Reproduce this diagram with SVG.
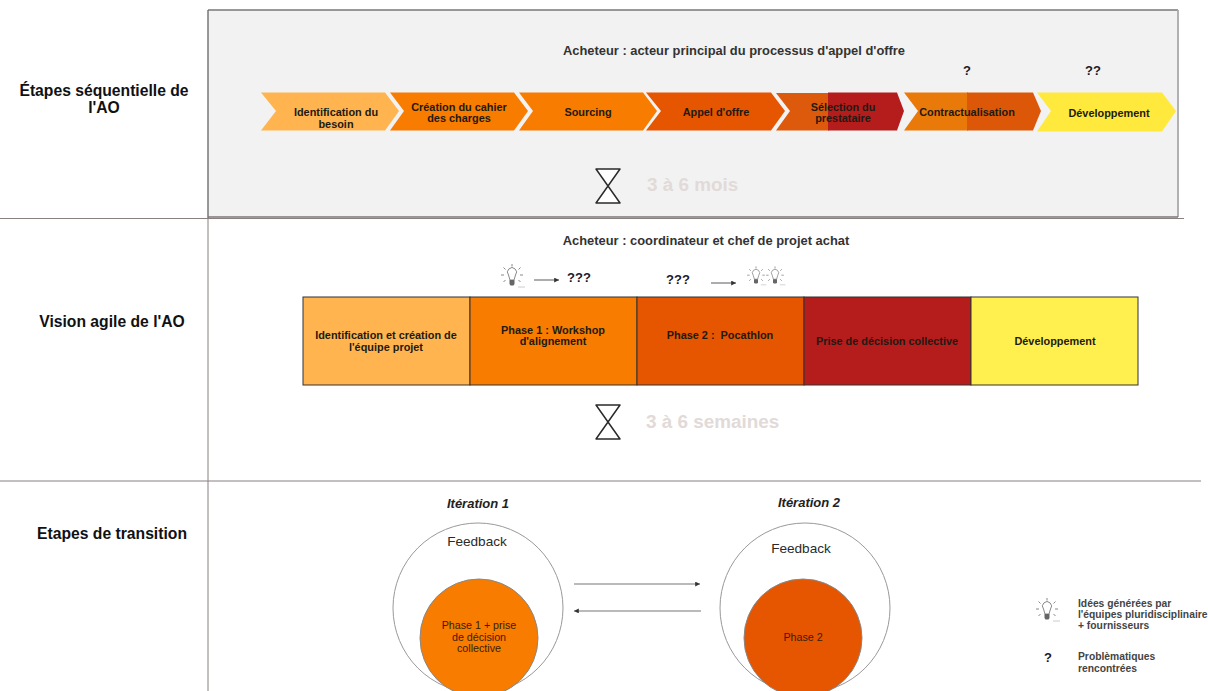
<svg xmlns="http://www.w3.org/2000/svg" width="1208" height="691" viewBox="0 0 1208 691">
<style>
text{font-family:"Liberation Sans",Arial,sans-serif;fill:#1a1a1a}
.b{font-weight:700;font-size:10.9px;text-anchor:middle;fill:#221a12}
.h{font-weight:700;font-size:15.7px;text-anchor:middle;fill:#111}
.s{font-weight:700;font-size:12.9px;text-anchor:middle;fill:#333}
.q{font-weight:700;font-size:13px;text-anchor:middle;fill:#1a1a2a}
.g{font-weight:700;font-size:18.900px;fill:#e2dad8}
.l{fill:none;stroke:#8a8080;stroke-width:1}
.e{fill:none;stroke:#777;stroke-width:1.500}
.r{fill:none;stroke:#aaa;stroke-width:1.800}
.a{fill:none;stroke:#777;stroke-width:1.200}
.i{font-weight:700;font-style:italic;font-size:13px;text-anchor:middle;fill:#222}
.f{font-size:13.600px;text-anchor:middle;fill:#2a2a2a}
.t{font-size:10.700px;text-anchor:middle;fill:#3a2008}
.c{fill:#fff;stroke:#999;stroke-width:1}
.leg{font-weight:700;font-size:10.300px;fill:#444}
.hg{fill:#fff;stroke:#2a2a2a;stroke-width:1.500;stroke-linejoin:round}
.bulb{fill:none;stroke:#888;stroke-width:1}
</style>
<defs>
<marker id="ah" markerWidth="5" markerHeight="5" refX="4" refY="2" orient="auto"><path d="M0 0L4 2L0 4Z" fill="#333"/></marker>
<g id="bulb">
<path class="bulb" d="M-3.500-1a4.500 4.500 0 1 1 7 0l-1.500 5h-4zM0-9.500v-2.500M-6.500-6.500l-2-2M6.500-6.500l2-2M-8-1h-3M8-1h3M-6.500 4l-2 2M6.500 4l2 2"/>
<path d="M-2.500 4h5v4l-1 1.500h-3l-1-1.500z" fill="#666"/>
<path d="M6 11h7" stroke="#ccc" stroke-width="1"/>
</g>
<g id="hour"><path class="hg" d="M-12-17H12L-12 17H12Z"/></g>
</defs>

<rect x="208" y="10" width="970" height="207" fill="#f2f2f2"/>

<g id="connectors">
<path class="e" d="M208 10H1178"/>
<path class="r" d="M1178 10V217"/>
<path class="e" d="M208 217H1178"/>
<path class="l" d="M0 218.500H1184"/>
<path class="e" d="M208 10V218"/>
<path class="l" d="M208 218V691"/>
<path class="l" d="M0 481H1201"/>
<path class="a" d="M534 280H559" marker-end="url(#ah)"/>
<path class="a" d="M711 283H736" marker-end="url(#ah)"/>
<path class="a" d="M574 584H700" marker-end="url(#ah)"/>
<path class="a" d="M701 611H574" marker-end="url(#ah)"/>
</g>

<g id="row-labels">
<text class="h" x="104" y="96">Étapes séquentielle de</text>
<text class="h" x="104" y="113">l'AO</text>
<text class="h" x="112" y="327">Vision agile de l'AO</text>
<text class="h" x="112" y="539">Etapes de transition</text>
</g>

<g id="sequence-header">
<text class="s" x="734" y="55">Acheteur : acteur principal du processus d'appel d'offre</text>
<text class="q" x="967" y="75">?</text>
<text class="q" x="1093" y="75">??</text>
</g>

<g id="step-1"><path fill="#ffb44f" d="M261 92.500H385L399 111L385 130.500H261L276 111Z"/><text class="b" x="336" y="116">Identification du</text><text class="b" x="336" y="128">besoin</text></g>
<g id="step-2"><path fill="#f77c00" d="M390 92.500H514L528 111L514 130.500H390L404 111Z"/><text class="b" x="459" y="111">Création du cahier</text><text class="b" x="459" y="122">des charges</text></g>
<g id="step-3"><path fill="#f77c00" d="M519 92.500H643L657 111L643 130.500H519L533 111Z"/><text class="b" x="588" y="116">Sourcing</text></g>
<g id="step-4"><path fill="#e65500" d="M646 92.500H771L785 111L771 130.500H646L661 111Z"/><text class="b" x="716" y="116">Appel d'offre</text></g>
<g id="step-5"><path fill="#dd5a0c" d="M776 93H829V130.500H776L790 111Z"/><path fill="#b51d1d" d="M828 92.500H897L904 111L897 130.500H828Z"/><text class="b" x="843" y="111">Sélection du</text><text class="b" x="843" y="122">prestataire</text></g>
<g id="step-6"><path fill="#e97908" d="M904 92.500H968V130.500H904L918 111Z"/><path fill="#dd5708" d="M967 92.500H1033L1041 111L1033 130.500H967L967 111Z"/><text class="b" x="967" y="116">Contractualisation</text></g>
<g id="step-7"><path fill="#ffe93c" d="M1037 92.500H1162L1176 111L1162 131.500H1037L1051 111Z"/><text class="b" x="1109" y="117">Développement</text></g>

<g id="duration-1"><use href="#hour" x="608" y="186"/><text class="g" x="647" y="191">3 à 6 mois</text></g>

<g id="agile-header">
<text class="s" x="706" y="245">Acheteur : coordinateur et chef de projet achat</text>
<use href="#bulb" x="512" y="276"/><text class="q" x="579" y="282">???</text>
<text class="q" x="678" y="284">???</text>
<use href="#bulb" transform="translate(756 276) scale(.8)"/><use href="#bulb" transform="translate(775 276) scale(.8)"/>
</g>

<g id="phase-1"><rect x="303" y="297" width="167" height="88" fill="#ffb44f" stroke="#333"/><text class="b" x="386" y="339">Identification et création de</text><text class="b" x="386" y="351">l'équipe projet</text></g>
<g id="phase-2"><rect x="470" y="297" width="167" height="88" fill="#f77c00" stroke="#333"/><text class="b" x="553" y="334">Phase 1 : Workshop</text><text class="b" x="553" y="345">d'alignement</text></g>
<g id="phase-3"><rect x="637" y="297" width="167" height="88" fill="#e65500" stroke="#333"/><text class="b" x="720" y="339" xml:space="preserve">Phase 2 :  Pocathlon</text></g>
<g id="phase-4"><rect x="804" y="297" width="167" height="88" fill="#b51d1d" stroke="#333"/><text class="b" x="887" y="345">Prise de décision collective</text></g>
<g id="phase-5"><rect x="971" y="297" width="167" height="88" fill="#fff050" stroke="#333"/><text class="b" x="1055" y="345">Développement</text></g>

<g id="duration-2"><use href="#hour" x="608" y="422"/><text class="g" x="646" y="428">3 à 6 semaines</text></g>

<g id="iteration-1">
<text class="i" x="478" y="508">Itération 1</text>
<circle class="c" cx="478" cy="608" r="85"/>
<text class="f" x="477" y="546">Feedback</text>
<circle cx="479" cy="638" r="59" fill="#f77c00" stroke="#888"/>
<text class="t" x="479" y="629">Phase 1 + prise</text><text class="t" x="479" y="641">de décision</text><text class="t" x="479" y="652">collective</text>
</g>
<g id="iteration-2">
<text class="i" x="809" y="507">Itération 2</text>
<circle class="c" cx="805" cy="608" r="85"/>
<text class="f" x="801" y="553">Feedback</text>
<circle cx="803" cy="638" r="59" fill="#e65500" stroke="#888"/>
<text class="t" x="803" y="641">Phase 2</text>
</g>

<g id="legend">
<use href="#bulb" x="1047" y="610"/>
<text class="leg" x="1078" y="607">Idées générées par</text>
<text class="leg" x="1078" y="617.500">l'équipes pluridisciplinaire</text>
<text class="leg" x="1078" y="629">+ fournisseurs</text>
<text class="q" x="1048" y="662">?</text>
<text class="leg" x="1078" y="660">Problèmatiques</text>
<text class="leg" x="1078" y="672">rencontrées</text>
</g>
</svg>
